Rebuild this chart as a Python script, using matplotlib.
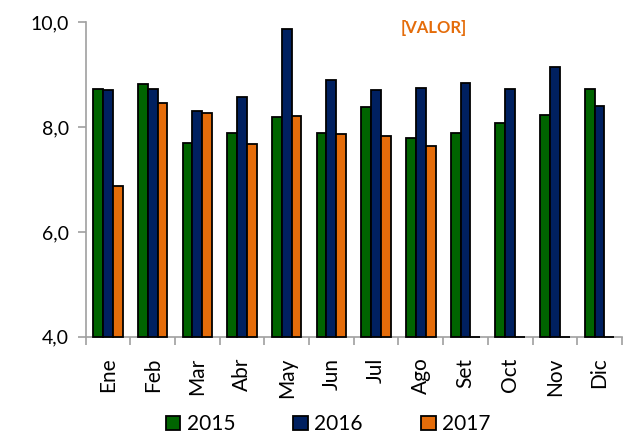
"""Monthly values 2015-2017, grouped bars
"""
import numpy as np
import matplotlib.pyplot as plt

plt.rcParams['font.family'] = ['Lato', 'DejaVu Sans']

# data
months = ['Ene', 'Feb', 'Mar', 'Abr', 'May', 'Jun',
          'Jul', 'Ago', 'Set', 'Oct', 'Nov', 'Dic']
v2015 = [8.72, 8.82, 7.70, 7.89, 8.19, 7.89, 8.39, 7.79, 7.88, 8.08, 8.23, 8.73]
v2016 = [8.71, 8.73, 8.31, 8.58, 9.86, 8.90, 8.71, 8.75, 8.84, 8.72, 9.14, 8.40]
v2017 = [6.88, 8.45, 8.26, 7.68, 8.21, 7.86, 7.82, 7.64, 0.0, 0.0, 0.0, 0.0]
years = ['2015', '2016', '2017']
colors = ['#006400', '#002060', '#E46C0A']

ymin, ymax = 4.0, 10.0

fig = plt.figure(figsize=(6.25, 4.34), dpi=100)
ax = fig.add_axes([0.137, 0.224, 0.858, 0.725])

x = np.arange(len(months))
width = 0.22
for i, (vals, col, lab) in enumerate(zip([v2015, v2016, v2017], colors, years)):
    heights = np.maximum(np.array(vals) - ymin, 0)
    ax.bar(x + (i - 1) * width, heights, width, bottom=ymin, color=col,
           edgecolor='black', linewidth=1.3, label=lab, clip_on=False, zorder=3)

ax.set_xlim(-0.5, len(months) - 0.5)
ax.set_ylim(ymin, ymax)
ax.set_yticks([4, 6, 8, 10])
ax.set_yticklabels(['4,0', '6,0', '8,0', '10,0'])
ax.set_xticks(x)
ax.set_xticklabels(months, rotation=90)
ax.set_xticks(np.arange(-0.5, len(months), 1), minor=True)
ax.tick_params(axis='x', which='major', length=0, pad=15, labelsize=15)
ax.tick_params(axis='x', which='minor', length=6, color='#a0a0a0', width=1.2)
ax.tick_params(axis='y', length=6, color='#a0a0a0', width=1.2, labelsize=14, pad=6)

for s in ['top', 'right']:
    ax.spines[s].set_visible(False)
for s in ['left', 'bottom']:
    ax.spines[s].set_color('#a0a0a0')
    ax.spines[s].set_linewidth(1.2)

ax.text(0.694, 0.935, '[VALOR]', transform=fig.transFigure, color='#E46C0A',
        fontsize=12, fontweight='bold', ha='center', va='center')

fig.legend(loc='center', bbox_to_anchor=(0.525, 0.022), ncol=3, frameon=False,
           fontsize=15, handlelength=0.7, handleheight=0.7, handletextpad=0.3,
           columnspacing=2.8)

plt.savefig('out.png')
